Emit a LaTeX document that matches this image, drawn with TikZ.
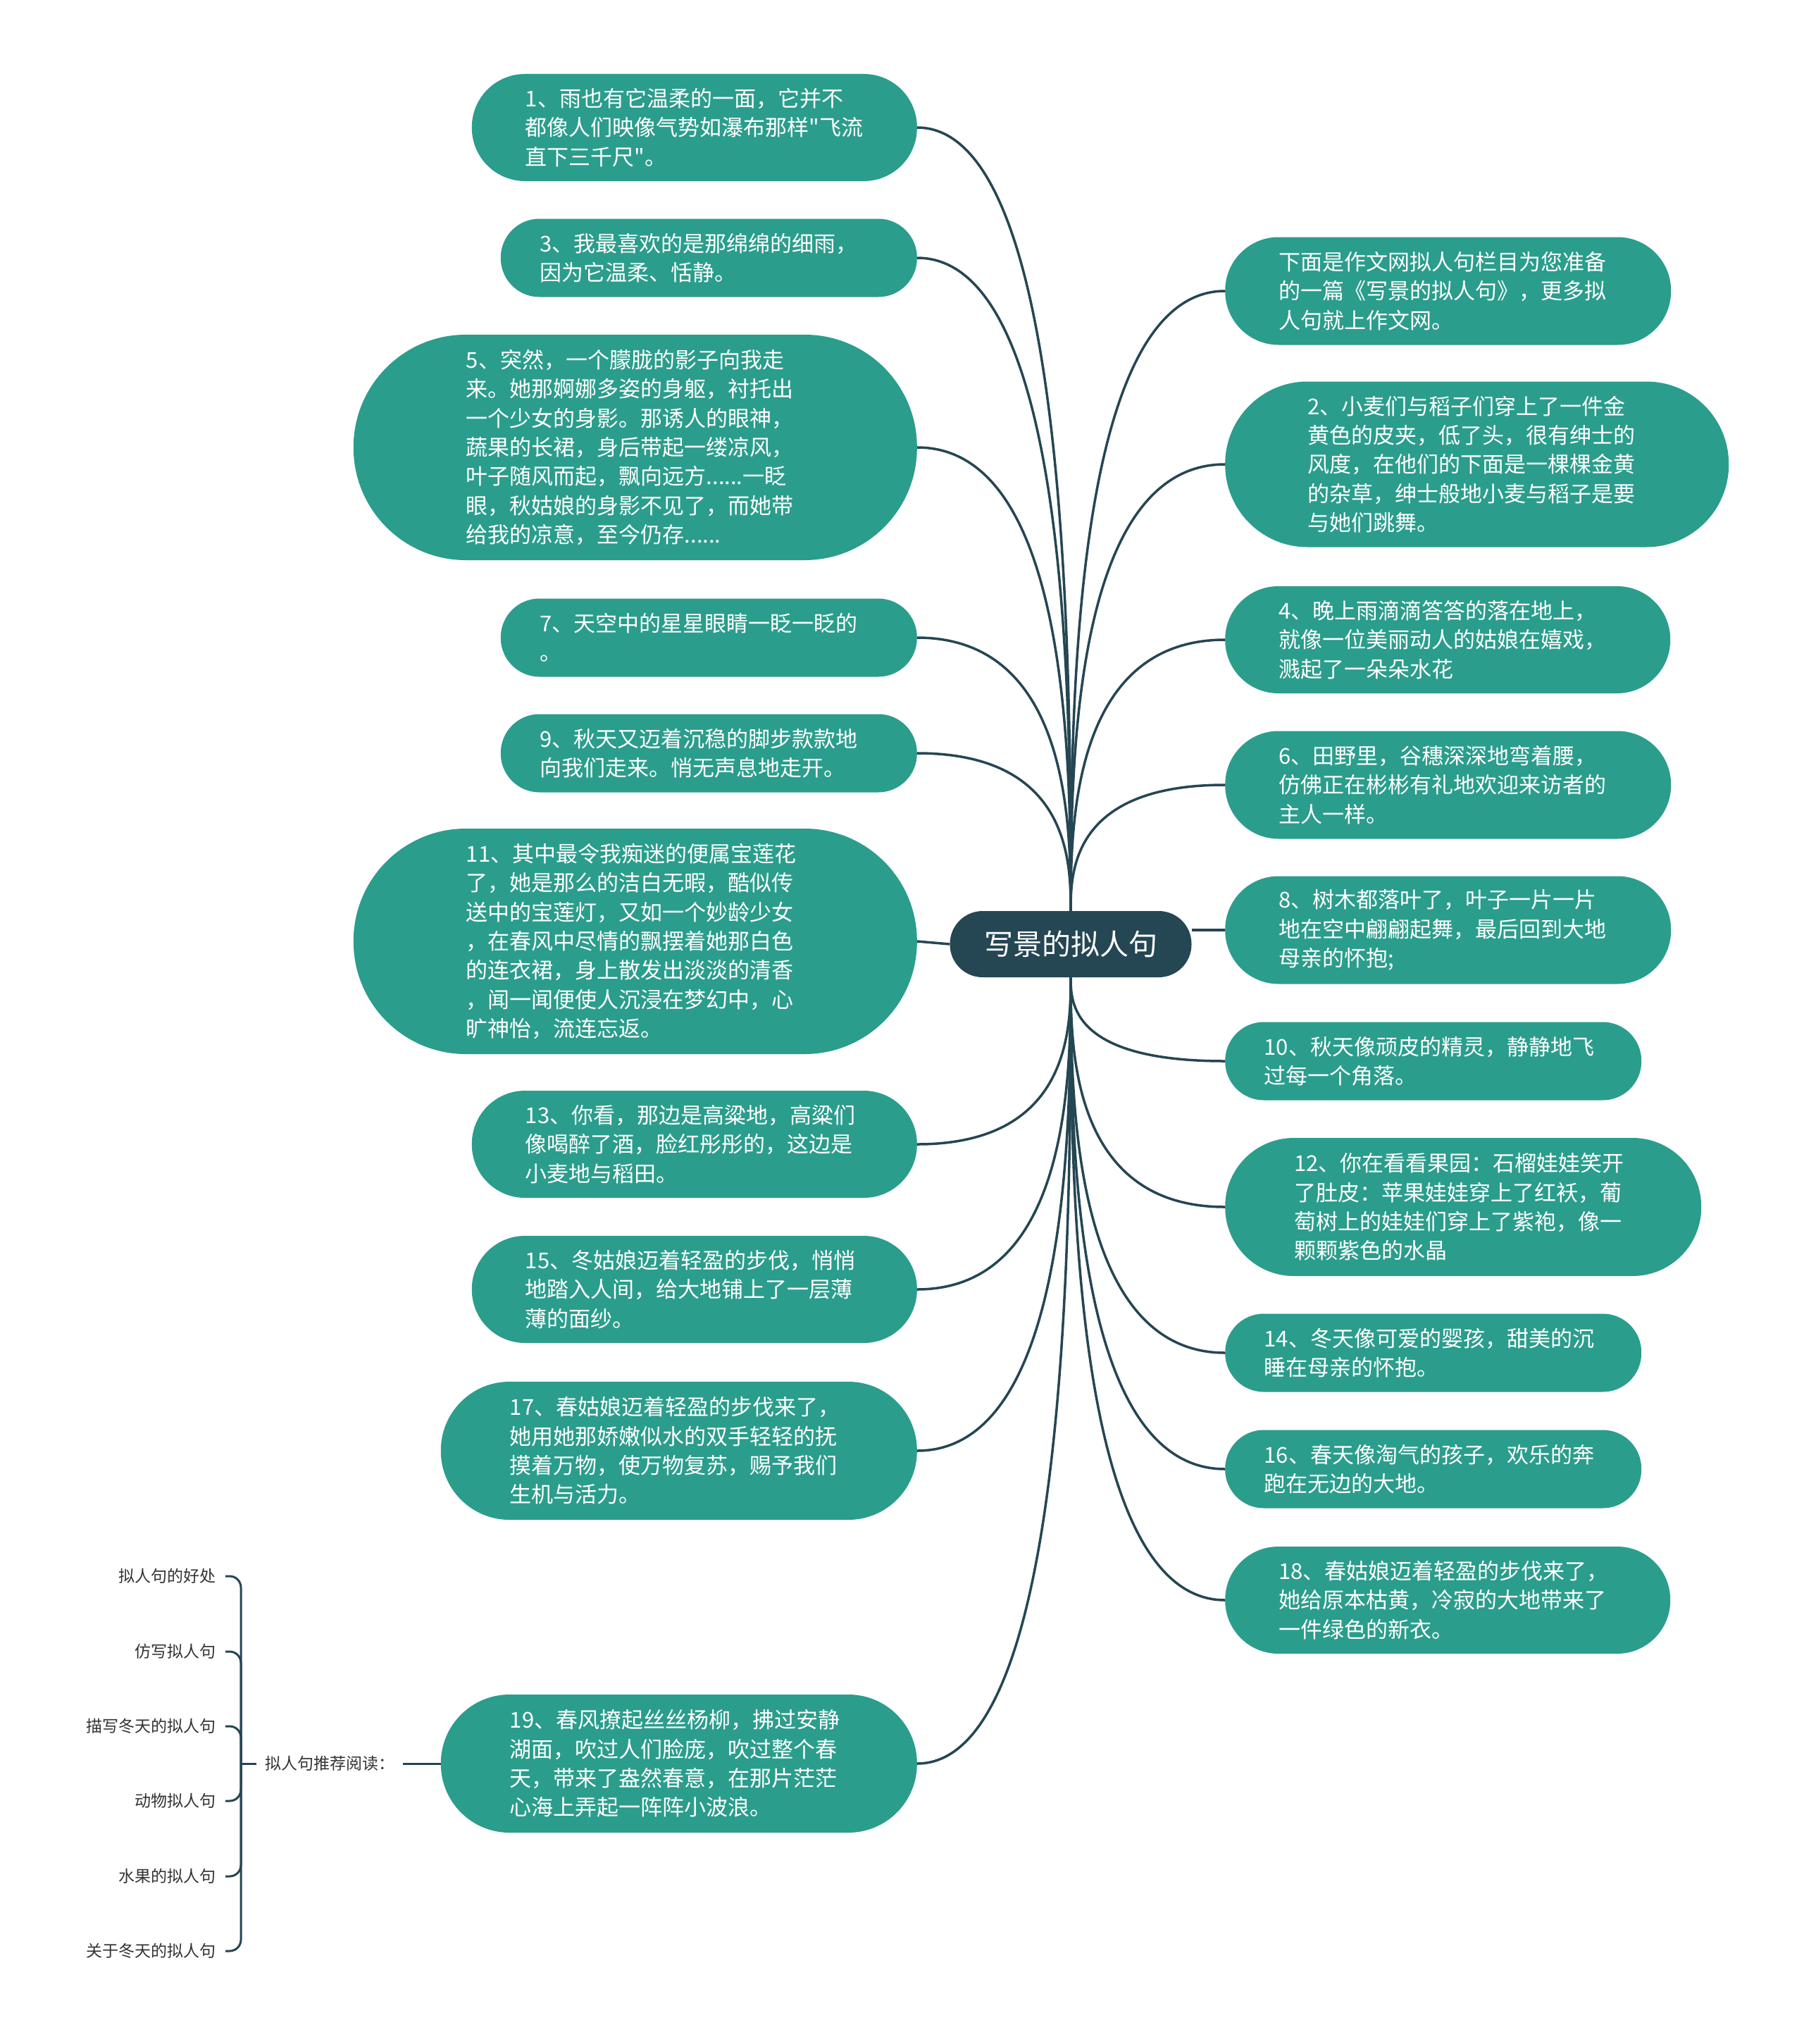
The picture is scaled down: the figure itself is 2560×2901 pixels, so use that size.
\documentclass[tikz,border=0pt]{standalone}
\usepackage{fontspec}
\usepackage{tikz}
\usetikzlibrary{positioning, calc}
\newfontfamily\cjk{Noto Sans CJK SC}
\definecolor{MMTeal}{RGB}{43,157,140}
\definecolor{MMNavy}{RGB}{37,70,83}
\definecolor{MMInk}{RGB}{51,51,51}

\begin{document}
\begin{tikzpicture}[x=1pt, y=-1pt,
    leaf/.style={rectangle, fill=MMTeal, text=white, text width=480pt,
                 align=left, inner sep=0pt, minimum height=#1pt,
                 minimum width=480pt+#1pt, rounded corners=#1pt/2-0.5pt,
                 font=\cjk\fontsize{31}{41.3}\selectfont},
    root/.style={rectangle, fill=MMNavy, text=white, inner sep=0pt,
                 minimum width=343pt, minimum height=94pt, rounded corners=46.5pt,
                 font=\cjk\fontsize{41}{48}\selectfont},
    tag/.style={text=MMInk, inner xsep=13pt, inner ysep=2pt,
                font=\cjk\fontsize{23}{28}\selectfont},
    link/.style={draw=MMNavy, line width=3.5pt},
    hang/.style={to path={.. controls ($(\tikztostart)!0.3!(\tikztostart |- \tikztotarget)$)
                 and (\tikztostart |- \tikztotarget) .. (\tikztotarget)}}
  ]
  \useasboundingbox[fill=white] (0,0) rectangle (2560,2901);

  \node[root] (ctr) at (1520,1340) {写景的拟人句};

  \node[leaf=152, anchor=east] (n1) at (1302,181)
        {1、雨也有它温柔的一面，它并不\\都像人们映像气势如瀑布那样"飞流\\直下三千尺"。};
  \node[leaf=111, anchor=east] (n3) at (1302,366)
        {3、我最喜欢的是那绵绵的细雨，\\因为它温柔、恬静。};
  \node[leaf=320, anchor=east] (n5) at (1302,635)
        {5、突然，一个朦胧的影子向我走\\来。她那婀娜多姿的身躯，衬托出\\一个少女的身影。那诱人的眼神，\\蔬果的长裙，身后带起一缕凉风，\\叶子随风而起，飘向远方......一眨\\眼，秋姑娘的身影不见了，而她带\\给我的凉意，至今仍存......};
  \node[leaf=111, anchor=east] (n7) at (1302,905)
        {7、天空中的星星眼睛一眨一眨的\\。};
  \node[leaf=111, anchor=east] (n9) at (1302,1069)
        {9、秋天又迈着沉稳的脚步款款地\\向我们走来。悄无声息地走开。};
  \node[leaf=320, anchor=east] (n11) at (1302,1336)
        {11、其中最令我痴迷的便属宝莲花\\了，她是那么的洁白无暇，酷似传\\送中的宝莲灯，又如一个妙龄少女\\，在春风中尽情的飘摆着她那白色\\的连衣裙，身上散发出淡淡的清香\\，闻一闻便使人沉浸在梦幻中，心\\旷神怡，流连忘返。};
  \node[leaf=152, anchor=east] (n13) at (1302,1624)
        {13、你看，那边是高粱地，高粱们\\像喝醉了酒，脸红彤彤的，这边是\\小麦地与稻田。};
  \node[leaf=152, anchor=east] (n15) at (1302,1830)
        {15、冬姑娘迈着轻盈的步伐，悄悄\\地踏入人间，给大地铺上了一层薄\\薄的面纱。};
  \node[leaf=196, anchor=east] (n17) at (1302,2059)
        {17、春姑娘迈着轻盈的步伐来了，\\她用她那娇嫩似水的双手轻轻的抚\\摸着万物，使万物复苏，赐予我们\\生机与活力。};
  \node[leaf=196, anchor=east] (n19) at (1302,2503)
        {19、春风撩起丝丝杨柳，拂过安静\\湖面，吹过人们脸庞，吹过整个春\\天，带来了盎然春意，在那片茫茫\\心海上弄起一阵阵小波浪。};

  \node[leaf=153, anchor=west] (nin) at (1739,413)
        {下面是作文网拟人句栏目为您准备\\的一篇《写景的拟人句》，更多拟\\人句就上作文网。};
  \node[leaf=235, anchor=west] (n2) at (1739,659)
        {2、小麦们与稻子们穿上了一件金\\黄色的皮夹，低了头，很有绅士的\\风度，在他们的下面是一棵棵金黄\\的杂草，绅士般地小麦与稻子是要\\与她们跳舞。};
  \node[leaf=152, anchor=west] (n4) at (1739,908)
        {4、晚上雨滴滴答答的落在地上，\\就像一位美丽动人的姑娘在嬉戏，\\溅起了一朵朵水花};
  \node[leaf=153, anchor=west] (n6) at (1739,1114)
        {6、田野里，谷穗深深地弯着腰，\\仿佛正在彬彬有礼地欢迎来访者的\\主人一样。};
  \node[leaf=153, anchor=west] (n8) at (1739,1320)
        {8、树木都落叶了，叶子一片一片\\地在空中翩翩起舞，最后回到大地\\母亲的怀抱;};
  \node[leaf=111, anchor=west] (n10) at (1739,1506)
        {10、秋天像顽皮的精灵，静静地飞\\过每一个角落。};
  \node[leaf=196, anchor=west] (n12) at (1739,1713)
        {12、你在看看果园：石榴娃娃笑开\\了肚皮：苹果娃娃穿上了红袄，葡\\萄树上的娃娃们穿上了紫袍，像一\\颗颗紫色的水晶};
  \node[leaf=111, anchor=west] (n14) at (1739,1920)
        {14、冬天像可爱的婴孩，甜美的沉\\睡在母亲的怀抱。};
  \node[leaf=111, anchor=west] (n16) at (1739,2085)
        {16、春天像淘气的孩子，欢乐的奔\\跑在无边的大地。};
  \node[leaf=152, anchor=west] (n18) at (1739,2271)
        {18、春姑娘迈着轻盈的步伐来了，\\她给原本枯黄，冷寂的大地带来了\\一件绿色的新衣。};

  \node[tag, anchor=west, inner xsep=12pt] (rec) at (364,2503) {拟人句推荐阅读：};
  \coordinate (bar) at (342,2503);
  \node[tag, anchor=east] (r1) at (320,2237) {拟人句的好处};
  \node[tag, anchor=east] (r2) at (320,2344) {仿写拟人句};
  \node[tag, anchor=east] (r3) at (320,2450) {描写冬天的拟人句};
  \node[tag, anchor=east] (r4) at (320,2556) {动物拟人句};
  \node[tag, anchor=east] (r5) at (320,2663) {水果的拟人句};
  \node[tag, anchor=east] (r6) at (320,2769) {关于冬天的拟人句};

  \foreach \n in {n1,n3,n5,n7,n9}
    \draw[link] (ctr.north) to[hang] (\n.east);
  \foreach \n in {nin,n2,n4,n6}
    \draw[link] (ctr.north) to[hang] (\n.west);
  \foreach \n in {n13,n15,n17,n19}
    \draw[link] (ctr.south) to[hang] (\n.east);
  \foreach \n in {n10,n12,n14,n16,n18}
    \draw[link] (ctr.south) to[hang] (\n.west);
  \draw[link] (ctr.west) -- (n11.east);
  \draw[link] (ctr.east |- n8.west) -- (n8.west);

  \draw[link, line width=3pt] (rec.east) -- (n19.west);
  \draw[link, line width=3pt] (rec.west) -- (bar);
  \foreach \r in {r1,r2,r3,r4,r5,r6}
    \draw[link, line width=3pt, rounded corners=16pt] (bar) |- (\r.east);
\end{tikzpicture}
\end{document}
